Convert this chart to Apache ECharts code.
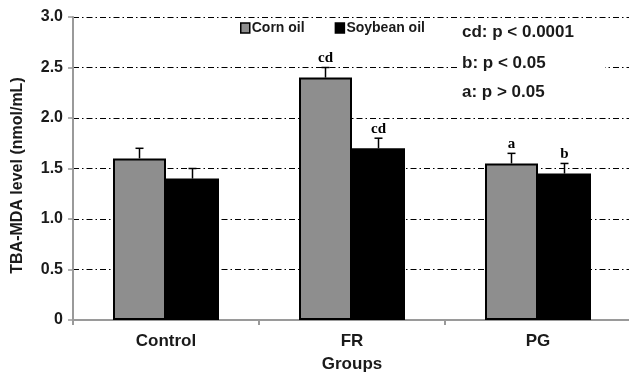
<!DOCTYPE html>
<html>
<head>
<meta charset="utf-8">
<script src="https://cdn.jsdelivr.net/npm/echarts@6/dist/echarts.min.js"></script>
<style>
html,body{margin:0;padding:0;background:#fff;overflow:hidden;}
#chart{width:629px;height:372px;}
</style>
</head>
<body>
<div id="chart"></div>
<script>
const categories = ['Control', 'FR', 'PG'];
const seriesNames = ['Corn oil', 'Soybean oil'];
const cornOil = [1.6, 2.4, 1.55];
const soybeanOil = [1.4, 1.7, 1.45];
const cornErrTop = [1.7, 2.5, 1.65];
const soybeanErrTop = [1.5, 1.8, 1.55];
const cornSig = ['', 'cd', 'a'];
const soybeanSig = ['', 'cd', 'b'];
const yTicks = [0, 0.5, 1.0, 1.5, 2.0, 2.5, 3.0];
const notes = ['cd: p < 0.0001', 'b: p < 0.05', 'a: p > 0.05'];

const BAR_W = 53;
const SANS = '"Liberation Sans", Arial, sans-serif';
const TXT = '#1a1a1a';
const AXIS_GRAY = '#9a9a9a';

const chart = echarts.init(document.getElementById('chart'), null, {renderer: 'canvas', width: 629, height: 372});

function errSeries(name, values, tops, sigs, sign) {
  return {
    type: 'custom',
    name: name + ' error',
    z: 5,
    silent: true,
    data: values.map((v, i) => [i, v, tops[i]]),
    renderItem: function (params, api) {
      const i = api.value(0);
      const base = api.coord([i, api.value(1)]);
      const top = api.coord([i, api.value(2)]);
      const x = base[0] + sign * BAR_W / 2;
      const children = [
        {type: 'line', shape: {x1: x, y1: base[1], x2: x, y2: top[1]}, style: {stroke: '#000', lineWidth: 1.5}},
        {type: 'line', shape: {x1: x - 4, y1: top[1], x2: x + 4, y2: top[1]}, style: {stroke: '#000', lineWidth: 1.5}}
      ];
      const s = sigs[params.dataIndex];
      if (s) {
        children.push({type: 'text', style: {text: s, x: x, y: top[1] - 2, textAlign: 'center', textVerticalAlign: 'bottom',
          font: 'bold 15px "Liberation Serif", "Times New Roman", serif', fill: '#000'}});
      }
      return {type: 'group', children: children};
    }
  };
}

const option = {
  animation: false,
  backgroundColor: '#fff',
  grid: {left: 73, top: 17, width: 558, height: 303, containLabel: false, outerBoundsMode: 'none'},
  legend: {
    data: seriesNames,
    left: 235,
    top: 16,
    itemWidth: 9,
    itemHeight: 10,
    itemGap: 30,
    icon: 'rect',
    itemStyle: {borderColor: '#000', borderWidth: 1.5},
    textStyle: {fontFamily: SANS, fontWeight: 'bold', fontSize: 14, color: TXT, padding: [0, 0, 0, -3]}
  },
  xAxis: {
    type: 'category',
    data: categories,
    name: 'Groups',
    nameLocation: 'middle',
    nameGap: 36,
    nameTextStyle: {fontFamily: SANS, fontWeight: 'bold', fontSize: 17, color: TXT},
    axisLine: {lineStyle: {color: AXIS_GRAY, width: 2}},
    axisTick: {show: true, length: 5, lineStyle: {color: AXIS_GRAY, width: 2}},
    axisLabel: {fontFamily: SANS, fontWeight: 'bold', fontSize: 17, color: TXT, margin: 13},
    splitLine: {show: false}
  },
  yAxis: {
    type: 'value',
    min: yTicks[0],
    max: yTicks[yTicks.length - 1],
    interval: 0.5,
    name: 'TBA-MDA level (nmol/mL)',
    nameLocation: 'middle',
    nameGap: 47,
    nameTextStyle: {fontFamily: SANS, fontWeight: 'bold', fontSize: 16, color: TXT, padding: [0, 14, 0, 0]},
    axisLine: {show: true, lineStyle: {color: AXIS_GRAY, width: 2}},
    axisTick: {show: true, length: 5, lineStyle: {color: AXIS_GRAY, width: 1.5}},
    axisLabel: {
      fontFamily: SANS, fontWeight: 'bold', fontSize: 16, color: TXT, margin: 10,
      formatter: v => (v === 0 ? '0' : v.toFixed(1))
    },
    splitLine: {show: true, lineStyle: {color: '#000', width: 1, type: [6, 3, 1.5, 3]}}
  },
  graphic: [
    {type: 'rect', left: 458, top: 22, z: 50, shape: {width: 147, height: 88}, style: {fill: '#fff'}},
    {type: 'text', left: 462, top: 24, z: 51, style: {text: notes[0], font: 'bold 17px ' + SANS, fill: TXT}},
    {type: 'text', left: 462, top: 55, z: 51, style: {text: notes[1], font: 'bold 17px ' + SANS, fill: TXT}},
    {type: 'text', left: 462, top: 84, z: 51, style: {text: notes[2], font: 'bold 17px ' + SANS, fill: TXT}}
  ],
  series: [
    {
      type: 'bar', name: seriesNames[0], data: cornOil, barWidth: BAR_W, barGap: '0%',
      itemStyle: {color: '#8e8e8e', borderColor: '#000', borderWidth: 2}
    },
    {
      type: 'bar', name: seriesNames[1], data: soybeanOil, barWidth: BAR_W, barGap: '0%',
      itemStyle: {color: '#000', borderColor: '#000', borderWidth: 2}
    },
    errSeries(seriesNames[0], cornOil, cornErrTop, cornSig, -1),
    errSeries(seriesNames[1], soybeanOil, soybeanErrTop, soybeanSig, 1)
  ]
};
chart.setOption(option);
</script>
</body>
</html>
